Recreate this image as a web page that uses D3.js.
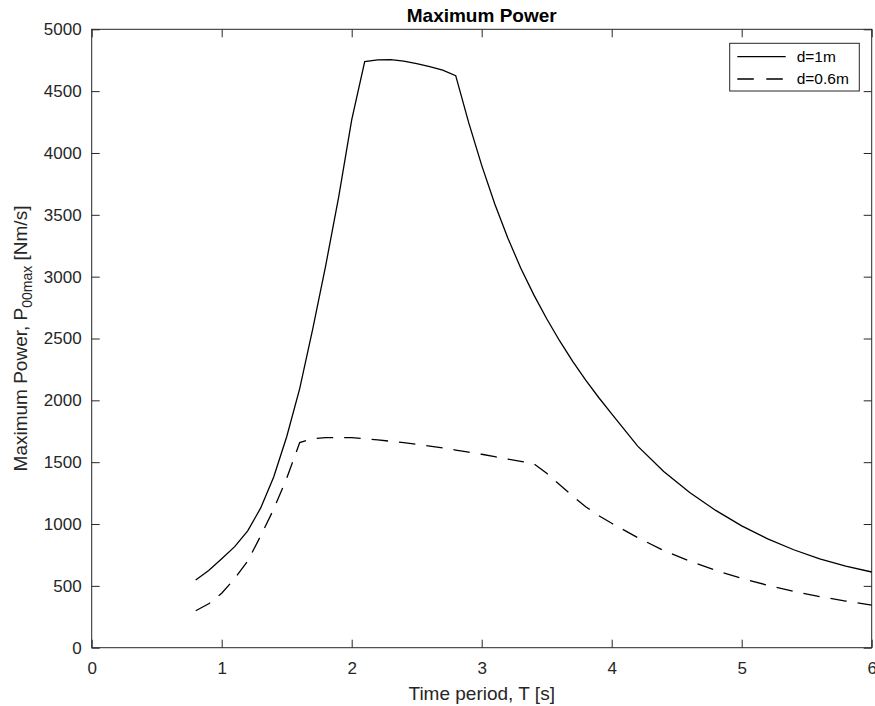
<!DOCTYPE html>
<html>
<head>
<meta charset="utf-8">
<script src="https://cdn.jsdelivr.net/npm/d3@7"></script>
<style>
  body { margin: 0; background: #ffffff; }
  svg { display: block; font-family: "Liberation Sans", Arial, Helvetica, sans-serif; }
</style>
</head>
<body>
<div id="chart"></div>
<script>
/* time periods T [s] */
var periods = [0.8, 0.9, 1.0, 1.1, 1.2, 1.3, 1.4, 1.5, 1.6, 1.7, 1.8, 1.9, 2.0,
               2.1, 2.2, 2.3, 2.4, 2.5, 2.6, 2.7, 2.8, 2.9, 3.0, 3.1, 3.2, 3.3,
               3.4, 3.5, 3.6, 3.7, 3.8, 3.9, 4.0, 4.2, 4.4, 4.6, 4.8, 5.0, 5.2,
               5.4, 5.6, 5.8, 6.0];
/* max power for d = 1 m */
var powerD1 = [547, 625, 720, 817, 945, 1130, 1380, 1706, 2095, 2575, 3090, 3645, 4267,
               4738, 4752, 4755, 4742, 4722, 4698, 4670, 4625, 4245, 3900, 3590, 3315, 3070,
               2855, 2660, 2480, 2315, 2163, 2023, 1890, 1630, 1425, 1255, 1110, 985, 880,
               792, 718, 660, 612];
/* max power for d = 0.6 m */
var powerD06 = [299, 355, 440, 560, 700, 905, 1120, 1370, 1658, 1690, 1698, 1700, 1698,
                1690, 1680, 1669, 1658, 1645, 1630, 1615, 1598, 1581, 1564, 1545, 1525, 1506,
                1488, 1410, 1318, 1225, 1140, 1068, 1006, 890, 785, 700, 625, 560, 505,
                455, 413, 377, 345];

var seriesNames = ["d=1m", "d=0.6m"];
var xTicks = [0, 1, 2, 3, 4, 5, 6];
var yTicks = [0, 500, 1000, 1500, 2000, 2500, 3000, 3500, 4000, 4500, 5000];

var axisColor = "#262626";

/* set the dimensions and margins of the graph */
var margin = { top: 29.3, right: 3.3, bottom: 58.3, left: 91.7 },
    width = 875 - margin.left - margin.right,
    height = 706 - margin.top - margin.bottom;

var svg = d3.select("#chart")
    .append("svg")
    .attr("width", 875)
    .attr("height", 706)
    .append("g")
    .attr("transform", "translate(" + margin.left + "," + margin.top + ")");

/* scales */
var x = d3.scaleLinear().domain([0, 6]).range([0, width]);
var y = d3.scaleLinear().domain([0, 5000]).range([height, 0]);

/* axes, ticks pointing inside like matlab */
var tickLen = 8;
function styleAxis(g) {
    g.select(".domain").remove();
    g.selectAll(".tick line").attr("stroke", axisColor).attr("stroke-width", 1);
    g.selectAll(".tick text").attr("fill", axisColor).style("font-size", "17px");
}

svg.append("g")
    .attr("transform", "translate(0," + height + ")")
    .call(d3.axisBottom(x).tickValues(xTicks).tickSize(-tickLen).tickPadding(14).tickFormat(d3.format("d")))
    .call(styleAxis);

svg.append("g")
    .call(d3.axisTop(x).tickValues(xTicks).tickSize(-tickLen).tickFormat(""))
    .call(styleAxis);

svg.append("g")
    .call(d3.axisLeft(y).tickValues(yTicks).tickSize(-tickLen).tickPadding(10).tickFormat(d3.format("d")))
    .call(styleAxis);

svg.append("g")
    .attr("transform", "translate(" + width + ",0)")
    .call(d3.axisRight(y).tickValues(yTicks).tickSize(-tickLen).tickFormat(""))
    .call(styleAxis);

/* box */
svg.append("rect")
    .attr("x", 0)
    .attr("y", 0)
    .attr("width", width)
    .attr("height", height)
    .attr("fill", "none")
    .attr("stroke", axisColor)
    .attr("stroke-width", 1);

/* lines */
var line = d3.line()
    .x(function(d) { return x(d[0]); })
    .y(function(d) { return y(d[1]); });

var plotArea = svg.append("g");

plotArea.append("path")
    .datum(d3.zip(periods, powerD1))
    .attr("d", line)
    .attr("fill", "none")
    .attr("stroke", "#000000")
    .attr("stroke-width", 1.3);

plotArea.append("path")
    .datum(d3.zip(periods, powerD06))
    .attr("d", line)
    .attr("fill", "none")
    .attr("stroke", "#000000")
    .attr("stroke-width", 1.3)
    .attr("stroke-dasharray", "16.5,11");

/* title */
svg.append("text")
    .attr("x", width / 2)
    .attr("y", -7)
    .attr("text-anchor", "middle")
    .attr("fill", "#000000")
    .style("font-size", "19px")
    .style("font-weight", "bold")
    .text("Maximum Power");

/* x axis label */
svg.append("text")
    .attr("x", width / 2)
    .attr("y", height + 52)
    .attr("text-anchor", "middle")
    .attr("fill", axisColor)
    .style("font-size", "19px")
    .text("Time period, T [s]");

/* y axis label with subscript */
var yLabel = svg.append("text")
    .attr("transform", "translate(" + (27 - margin.left) + "," + (height / 2) + ") rotate(-90)")
    .attr("text-anchor", "middle")
    .attr("fill", axisColor)
    .style("font-size", "19px");
yLabel.append("tspan").text("Maximum Power, P");
yLabel.append("tspan").attr("dy", 5).style("font-size", "14px").text("00max");
yLabel.append("tspan").attr("dy", -5).text(" [Nm/s]");

/* legend */
var legend = svg.append("g")
    .attr("transform", "translate(" + (729.7 - margin.left) + "," + (43.3 - margin.top) + ")");

legend.append("rect")
    .attr("width", 129.6)
    .attr("height", 47.7)
    .attr("fill", "#ffffff")
    .attr("stroke", axisColor)
    .attr("stroke-width", 1);

var legendItems = legend.selectAll(".legend-item")
    .data(seriesNames)
    .enter().append("g")
    .attr("class", "legend-item")
    .attr("transform", function(d, i) { return "translate(0," + (13.4 + i * 22.3) + ")"; });

legendItems.append("line")
    .attr("x1", 7.6)
    .attr("x2", 56)
    .attr("stroke", "#000000")
    .attr("stroke-width", 1.3)
    .attr("stroke-dasharray", function(d, i) { return i === 1 ? "16.5,12.5" : null; });

legendItems.append("text")
    .attr("x", 67)
    .attr("dy", "0.35em")
    .attr("fill", "#000000")
    .style("font-size", "15.5px")
    .text(String);
</script>
</body>
</html>
